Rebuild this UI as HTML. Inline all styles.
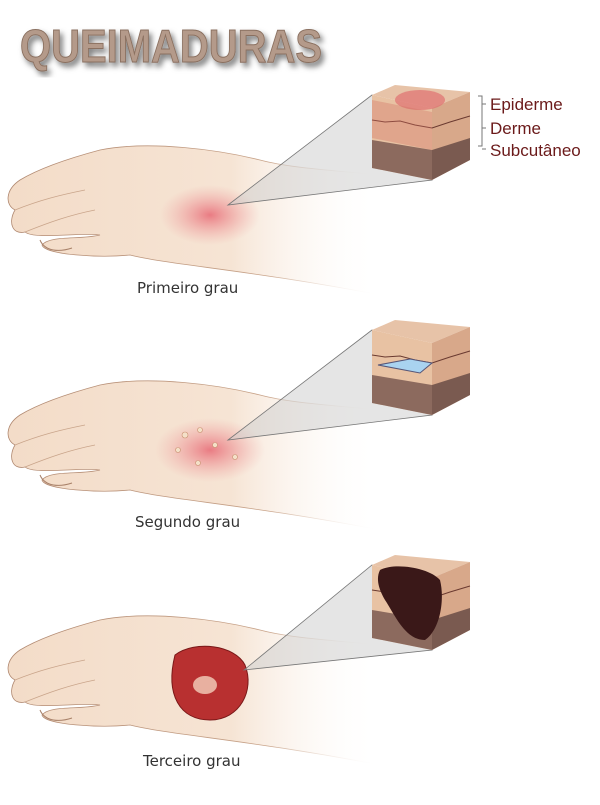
<!DOCTYPE html>
<html><head><style>
body{margin:0;background:#fff;width:600px;height:800px;overflow:hidden}
</style></head><body>
<svg width="600" height="800" viewBox="0 0 600 800" xmlns="http://www.w3.org/2000/svg">
<defs>
<linearGradient id="arm" x1="0" x2="1" y1="0" y2="0">
<stop offset="0" stop-color="#f3dcc8"/><stop offset="0.6" stop-color="#f6e4d4"/><stop offset="1" stop-color="#fff" stop-opacity="0"/>
</linearGradient>
<linearGradient id="edge" x1="0" x2="1" y1="0" y2="0">
<stop offset="0" stop-color="#b08870"/><stop offset="0.7" stop-color="#c9a48a"/><stop offset="1" stop-color="#fff" stop-opacity="0"/>
</linearGradient>
<radialGradient id="burn"><stop offset="0" stop-color="#e8707a" stop-opacity="0.9"/><stop offset="1" stop-color="#f0a0a0" stop-opacity="0"/></radialGradient>
<filter id="sh"><feDropShadow dx="3" dy="4" stdDeviation="3" flood-color="#000" flood-opacity="0.5"/></filter>
<g id="hand">
<path d="M380,175 C330,170 290,168 260,160 C220,150 150,140 100,150 C70,158 40,168 20,180 C5,190 5,205 15,210 C8,222 12,235 25,232 C35,240 80,232 100,235 C80,240 50,235 42,245 C45,255 100,258 130,255 C170,265 250,270 380,295 Z" fill="url(#arm)" stroke="url(#edge)" stroke-width="0.8"/>
<path d="M15,210 C40,200 60,195 85,190 M25,232 C50,222 70,215 95,210" fill="none" stroke="#c9a48a" stroke-width="0.8"/>
<path d="M40,240 C45,252 60,252 72,248" fill="none" stroke="#a88068"/>
</g>
<g id="cube">
<polygon points="372,95 395,85 470,92 432,108" fill="#e7c3a8"/>
<polygon points="372,95 432,108 432,180 372,168" fill="#e8c2a3"/>
<polygon points="432,108 470,92 470,160 432,180" fill="#d8a88a"/>
<polygon points="372,140 432,150 432,180 372,168" fill="#8c6a5e"/>
<polygon points="432,150 470,138 470,160 432,180" fill="#7a5a50"/>
<polyline points="372,120 385,122 400,121 415,125 432,128 450,122 470,116" fill="none" stroke="#6a3a30"/>
</g>
</defs>
<text x="20" y="62" font-family="Liberation Sans,sans-serif" font-weight="bold" font-size="46" fill="#b49a8a" stroke="#8a7060" stroke-width="1" filter="url(#sh)" textLength="302" lengthAdjust="spacingAndGlyphs">QUEIMADURAS</text>

<use href="#hand"/>
<ellipse cx="210" cy="215" rx="50" ry="30" fill="url(#burn)"/>
<polygon points="228,205 372,95 432,180" fill="#ccc" fill-opacity="0.5" stroke="#777" stroke-width="0.8"/>
<use href="#cube"/>
<ellipse cx="420" cy="100" rx="25" ry="10" fill="#e07070" opacity="0.7"/>
<polygon points="372,100 432,112 432,150 372,138" fill="#d07060" opacity="0.35"/>
<g stroke="#777" fill="none"><path d="M478,96 h4 v50 h-4 M482,104 h4 M482,128 h4 M482,149 h4"/></g>
<g font-family="Liberation Sans,DejaVu Sans,sans-serif" font-size="17" fill="#6b1a1a">
<text x="490" y="110">Epiderme</text><text x="490" y="134">Derme</text><text x="490" y="156">Subcutâneo</text></g>
<text x="137" y="293" font-family="DejaVu Sans,sans-serif" font-size="15" fill="#333">Primeiro grau</text>

<g transform="translate(0,235)">
<use href="#hand"/>
<ellipse cx="210" cy="215" rx="55" ry="32" fill="url(#burn)"/>
<g fill="#f4e0c8" stroke="#c89070" stroke-width="0.6"><circle cx="185" cy="200" r="3"/><circle cx="200" cy="195" r="2.5"/><circle cx="178" cy="215" r="2.5"/><circle cx="215" cy="210" r="2.5"/><circle cx="235" cy="222" r="2.5"/><circle cx="198" cy="228" r="2.5"/></g>
<polygon points="228,205 372,95 432,180" fill="#ccc" fill-opacity="0.5" stroke="#777" stroke-width="0.8"/>
<use href="#cube"/>
<polygon points="378,130 410,124 432,128 420,138" fill="#a9d3f0" stroke="#557"/>
</g>
<text x="135" y="527" font-family="DejaVu Sans,sans-serif" font-size="15" fill="#333">Segundo grau</text>

<g transform="translate(0,470)">
<use href="#hand"/>
<path d="M175,185 C195,170 235,175 245,195 C255,220 240,250 210,250 C180,250 165,225 175,185 Z" fill="#b83030" stroke="#7a1818"/>
<ellipse cx="205" cy="215" rx="12" ry="9" fill="#e8b0a0"/>
<polygon points="244,200 372,95 432,180" fill="#ccc" fill-opacity="0.5" stroke="#777" stroke-width="0.8"/>
<use href="#cube"/>
<path d="M380,100 C395,92 430,98 440,110 C445,130 440,160 425,170 C405,170 395,145 385,130 C378,118 376,108 380,100 Z" fill="#3a1818"/>
</g>
<text x="143" y="766" font-family="DejaVu Sans,sans-serif" font-size="15" fill="#333">Terceiro grau</text>
</svg>
</body></html>
